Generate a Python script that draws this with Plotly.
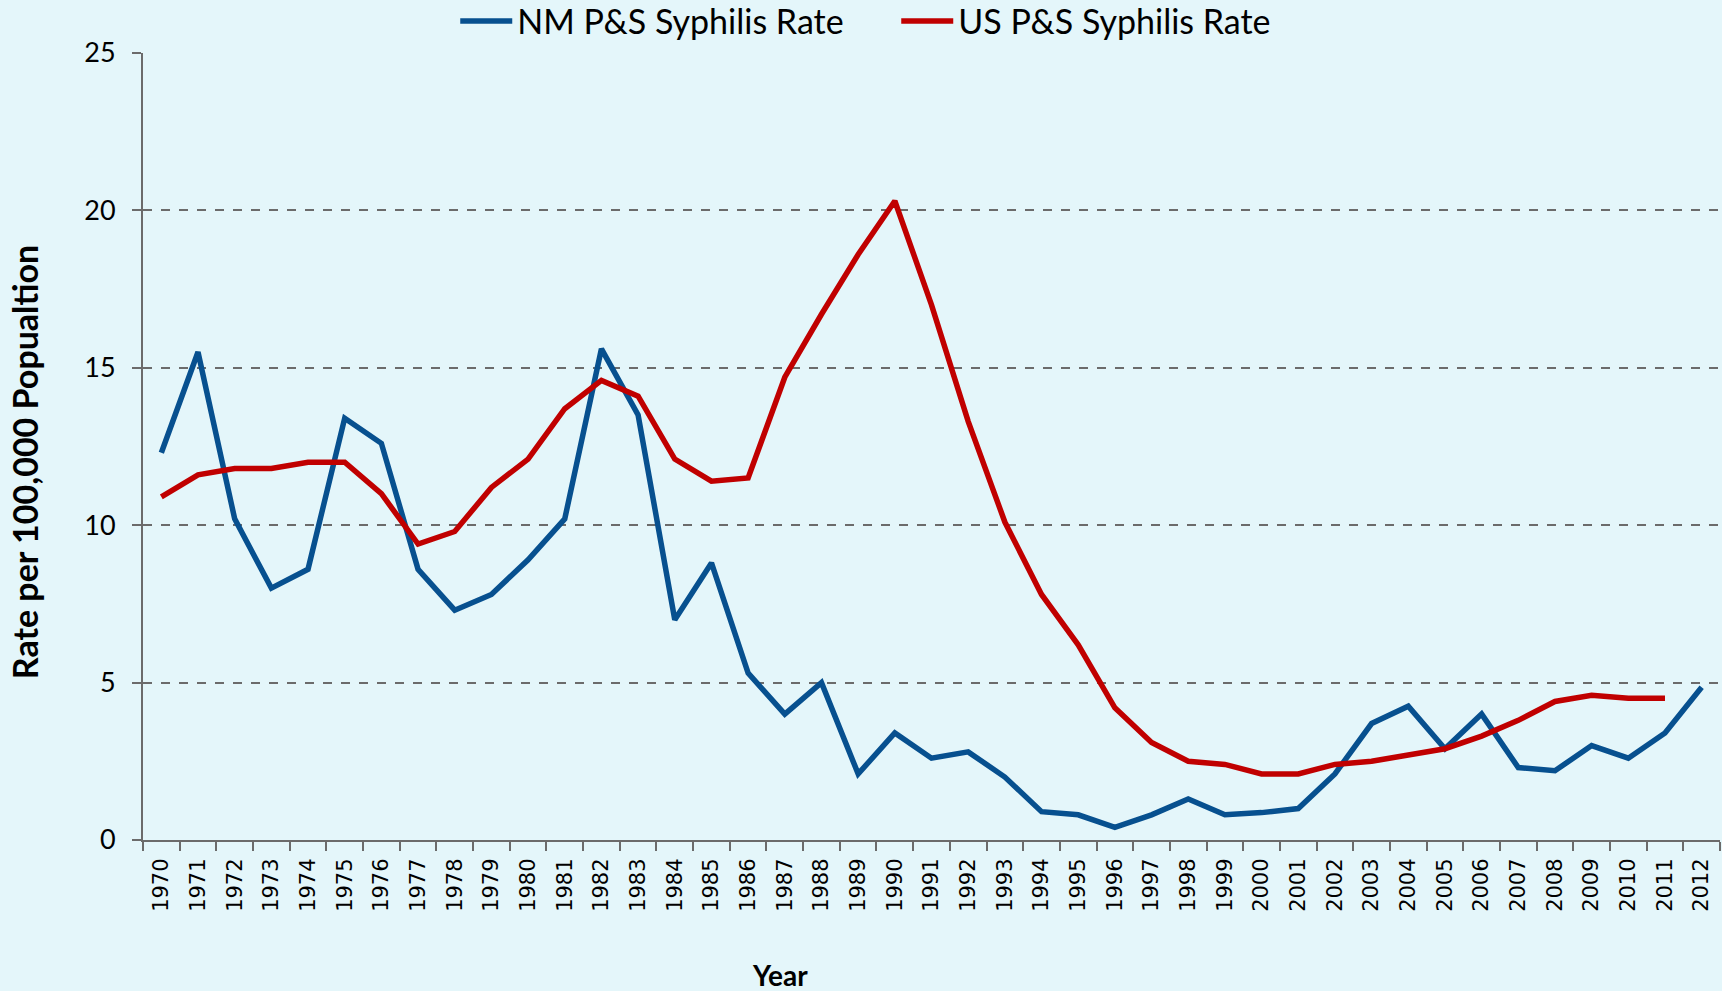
import plotly.graph_objects as go

years = [str(y) for y in range(1970, 2013)]
nm_rate = [12.3, 15.5, 10.2, 8.0, 8.6, 13.4, 12.6, 8.6, 7.3, 7.8, 8.9, 10.2, 15.6, 13.5,
           7.0, 8.8, 5.3, 4.0, 5.0, 2.1, 3.4, 2.6, 2.8, 2.0, 0.9, 0.8, 0.4, 0.8, 1.3, 0.8,
           0.87, 1.0, 2.1, 3.7, 4.25, 2.9, 4.0, 2.3, 2.2, 3.0, 2.6, 3.4, 4.85]
us_rate = [10.9, 11.6, 11.8, 11.8, 12.0, 12.0, 11.0, 9.4, 9.8, 11.2, 12.1, 13.7, 14.6, 14.1,
           12.1, 11.4, 11.5, 14.7, 16.7, 18.6, 20.3, 17.0, 13.3, 10.1, 7.8, 6.2, 4.2, 3.1, 2.5, 2.4,
           2.1, 2.1, 2.4, 2.5, 2.7, 2.9, 3.3, 3.8, 4.4, 4.6, 4.5, 4.5, None]
y_ticks = [0, 5, 10, 15, 20, 25]

BG = "#E4F6FA"
GRID = "#6B6B6B"
FONT = "Lato"

fig = go.Figure()
fig.add_trace(go.Scatter(x=years, y=nm_rate, mode="lines", name="NM P&S Syphilis Rate",
                         line=dict(color="#07508F", width=5.5)))
fig.add_trace(go.Scatter(x=years, y=us_rate, mode="lines", name="US P&S Syphilis Rate",
                         line=dict(color="#C00000", width=5.5)))

fig.update_layout(
    width=1722, height=991,
    margin=dict(l=143, r=2, t=53, b=151, autoexpand=False),
    paper_bgcolor=BG, plot_bgcolor=BG,
    font=dict(family=FONT, color="black"),
    showlegend=True,
    legend=dict(orientation="h", x=0.198, xanchor="left", y=1.04, yanchor="middle",
                font=dict(size=34, family=FONT), bgcolor="rgba(0,0,0,0)",
                itemwidth=52, tracegroupgap=0, entrywidth=374, entrywidthmode="pixels"),
    xaxis=dict(type="category", range=[-0.5, 42.5], showgrid=False, zeroline=False,
               showline=True, linecolor=GRID, linewidth=2,
               ticks="outside", tickson="boundaries", ticklen=9, tickcolor=GRID, tickwidth=1.5,
               tickangle=-90, tickfont=dict(family="DejaVu Sans", size=21, color="black"),
               ticklabelstandoff=8),
    yaxis=dict(range=[0, 25], tickvals=y_ticks, showgrid=True, gridcolor=GRID, griddash="dash",
               gridwidth=2, zeroline=False, showline=True, linecolor=GRID, linewidth=2,
               ticks="outside", ticklen=9, tickcolor=GRID, tickwidth=1.5,
               tickfont=dict(family=FONT, size=27, color="black"), ticklabelstandoff=11),
    annotations=[
        dict(text="<b>Rate per 100,000 Popualtion</b>", xref="paper", yref="paper",
             x=-0.0755, y=0.48, textangle=-90, showarrow=False,
             font=dict(size=34, family=FONT), xanchor="center", yanchor="middle"),
        dict(text="<b>Year</b>", xref="paper", yref="paper", x=0.404, y=-0.1715,
             showarrow=False, font=dict(size=28, family=FONT), xanchor="center", yanchor="middle"),
    ],
)

fig.write_html("out.html", config={"displayModeBar": False},
               post_script="document.body.style.margin='0';document.body.style.overflow='hidden';")
